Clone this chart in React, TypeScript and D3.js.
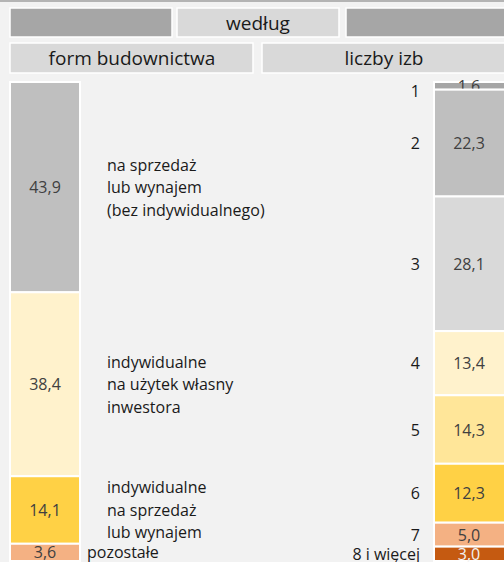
import React from "react";
import * as d3 from "d3";

const formLabels: string[][] = [
  ["na sprzedaż", "lub wynajem", "(bez indywidualnego)"],
  ["indywidualne", "na użytek własny", "inwestora"],
  ["indywidualne", "na sprzedaż", "lub wynajem"],
  ["pozostałe"],
];
const formValues = [43.9, 38.4, 14.1, 3.6];
const formColors = ["#bfbfbf", "#fff2cc", "#ffd145", "#f4b183"];

const roomLabels = ["1", "2", "3", "4", "5", "6", "7", "8 i więcej"];
const roomValues = [1.6, 22.3, 28.1, 13.4, 14.3, 12.3, 5.0, 3.0];
const roomColors = ["#a6a6a6", "#bfbfbf", "#d9d9d9", "#fff2cc", "#ffe699", "#ffd145", "#f4b183", "#c55a11"];

const W = 504;
const H = 562;
const FONT = "'Open Sans', sans-serif";

function stack(values: number[]) {
  let acc = 0;
  return values.map((v) => {
    const s = { y0: acc, y1: acc + v, v };
    acc += v;
    return s;
  });
}

const fmt = (v: number) => d3.format(".1f")(v).replace(".", ",");

export default function App() {
  const y = d3.scaleLinear().domain([0, 100]).range([82, 561]);
  const left = stack(formValues);
  const right = stack(roomValues);
  const leftX = 10, leftW = 70;
  const rightX = 434, rightW = 72;

  return (
    <svg width={W} height={H} style={{ position: "absolute", left: 0, top: 0, background: "#f2f2f2" }} fontFamily={FONT}>
      <rect x={0} y={0} width={W} height={H} fill="#f2f2f2" />
      <line x1={0} x2={W} y1={1} y2={1} stroke="#b4b4b4" strokeWidth={2} />
      {/* header */}
      <g stroke="#ffffff" strokeWidth={1.5}>
        <rect x={10} y={8} width={162} height={29} fill="#a6a6a6" />
        <rect x={177} y={8} width={162} height={29} fill="#d9d9d9" />
        <rect x={346} y={8} width={162} height={29} fill="#a6a6a6" />
        <rect x={10} y={43} width={243} height={30} fill="#d9d9d9" />
        <rect x={262} y={43} width={246} height={30} fill="#d9d9d9" />
      </g>
      <g fontSize={19} fill="#1a1a1a" textAnchor="middle" dominantBaseline="central">
        <text x={258} y={23}>według</text>
        <text x={132} y={58}>form budownictwa</text>
        <text x={384} y={58}>liczby izb</text>
      </g>
      {/* left bar */}
      {left.map((s, i) => (
        <g key={"l" + i}>
          <rect x={leftX} y={y(s.y0)} width={leftW} height={y(s.y1) - y(s.y0)} fill={formColors[i]} stroke="#ffffff" strokeWidth={2} />
          <text x={leftX + leftW / 2} y={(y(s.y0) + y(s.y1)) / 2} fontSize={16} fill="#404040" textAnchor="middle" dominantBaseline="central">
            {fmt(s.v)}
          </text>
          {formLabels[i].map((line, j) => {
            const n = formLabels[i].length;
            const cy = (y(s.y0) + y(s.y1)) / 2;
            return (
              <text key={j} x={n === 1 ? 87 : 107} y={cy + (j - (n - 1) / 2) * 22.5} fontSize={16} fill="#1a1a1a" dominantBaseline="central">
                {line}
              </text>
            );
          })}
        </g>
      ))}
      {/* right bar */}
      {right.map((s, i) => {
        const cy = (y(s.y0) + y(s.y1)) / 2;
        return (
          <g key={"r" + i}>
            <rect x={rightX} y={y(s.y0)} width={rightW} height={y(s.y1) - y(s.y0)} fill={roomColors[i]} stroke="#ffffff" strokeWidth={2} />
            <text x={rightX + 35} y={cy} fontSize={16} fill={i === roomValues.length - 1 ? "#f2f2f2" : "#404040"} textAnchor="middle" dominantBaseline="central">
              {fmt(s.v)}
            </text>
            <text x={420} y={i === 0 ? cy + 5 : cy} fontSize={16} fill="#1a1a1a" textAnchor="end" dominantBaseline="central">
              {roomLabels[i]}
            </text>
          </g>
        );
      })}
    </svg>
  );
}
